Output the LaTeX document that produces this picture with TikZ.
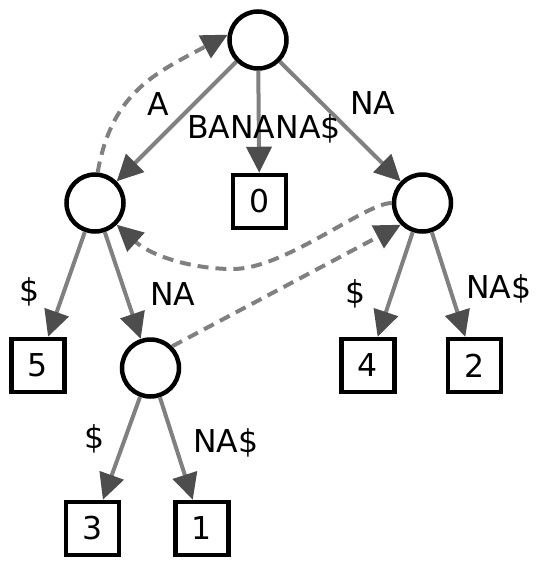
\documentclass[tikz,border=0pt]{standalone}
\usepackage{fontspec}
\setmainfont{DejaVu Sans}
\usetikzlibrary{arrows.meta}
\definecolor{edgegray}{HTML}{808080}
\definecolor{tipgray}{HTML}{4D4D4D}
\begin{document}
\begin{tikzpicture}[x=1pt,y=1pt,
  inode/.style={circle,draw=black,line width=4.5pt,fill=white,minimum size=57pt,inner sep=0pt},
  leaf/.style={rectangle,draw=black,line width=4.5pt,fill=white,minimum size=53pt,inner sep=0pt,font=\fontsize{31.5}{36}\selectfont},
  tedge/.style={draw=edgegray,line width=4pt,-{Triangle[length=26pt,width=25pt,color=tipgray]}},
  slink/.style={draw=edgegray,line width=4pt,dash pattern=on 11pt off 7pt,-{Triangle[length=26pt,width=25pt,color=tipgray]}},
  lbl/.style={font=\fontsize{31.5}{36}\selectfont,inner sep=0pt}]
\path[use as bounding box] (0,0) rectangle (540,-573);
% nodes
\node[inode] (root) at (258,-40) {};
\node[inode] (L) at (95,-203) {};
\node[inode] (R) at (422.5,-203) {};
\node[inode] (M) at (150.5,-368) {};
\node[leaf] (b0) at (259.5,-201.5) {0};
\node[leaf] (b5) at (38,-365.5) {5};
\node[leaf] (b4) at (368,-365.5) {4};
\node[leaf] (b2) at (474.5,-365.5) {2};
\node[leaf] (b3) at (92.5,-528.5) {3};
\node[leaf] (b1) at (202,-528.5) {1};
% tree edges
\draw[tedge] (root) -- (L);
\draw[tedge] (root) -- (b0);
\draw[tedge] (root) -- (R);
\draw[tedge] (L) -- (b5);
\draw[tedge] (L) -- (M);
\draw[tedge] (R) -- (b4);
\draw[tedge] (R) -- (b2);
\draw[tedge] (M) -- (b3);
\draw[tedge] (M) -- (b1);
% suffix links
\draw[slink] (L.85) to[out=80,in=208,looseness=1.1] (root.170);
\coordinate (sl2) at (233,-269);
\draw[slink] (R.west) .. controls (365,-203) and (285,-269) .. (sl2) .. controls (190,-269) and (150,-255) .. (L.-45);
\draw[slink] (M.45) -- (R.-135);
% labels
\node[lbl,anchor=base] (lA) at (158,-115) {A};
\node[lbl,anchor=base west] (lBan) at (187,-138) {BANANA\$};
\node[lbl,anchor=base west] (lNAt) at (350,-114) {NA};
\node[lbl,anchor=base] (lD5) at (29.5,-301.5) {\$};
\node[lbl,anchor=base west] (lNAm) at (150,-305) {NA};
\node[lbl,anchor=base] (lD4) at (355.5,-303.5) {\$};
\node[lbl,anchor=base west] (lNA2) at (466,-298) {NA\$};
\node[lbl,anchor=base] (lD3) at (95,-448.5) {\$};
\node[lbl,anchor=base west] (lNA1) at (193,-452) {NA\$};
\end{tikzpicture}
\end{document}
